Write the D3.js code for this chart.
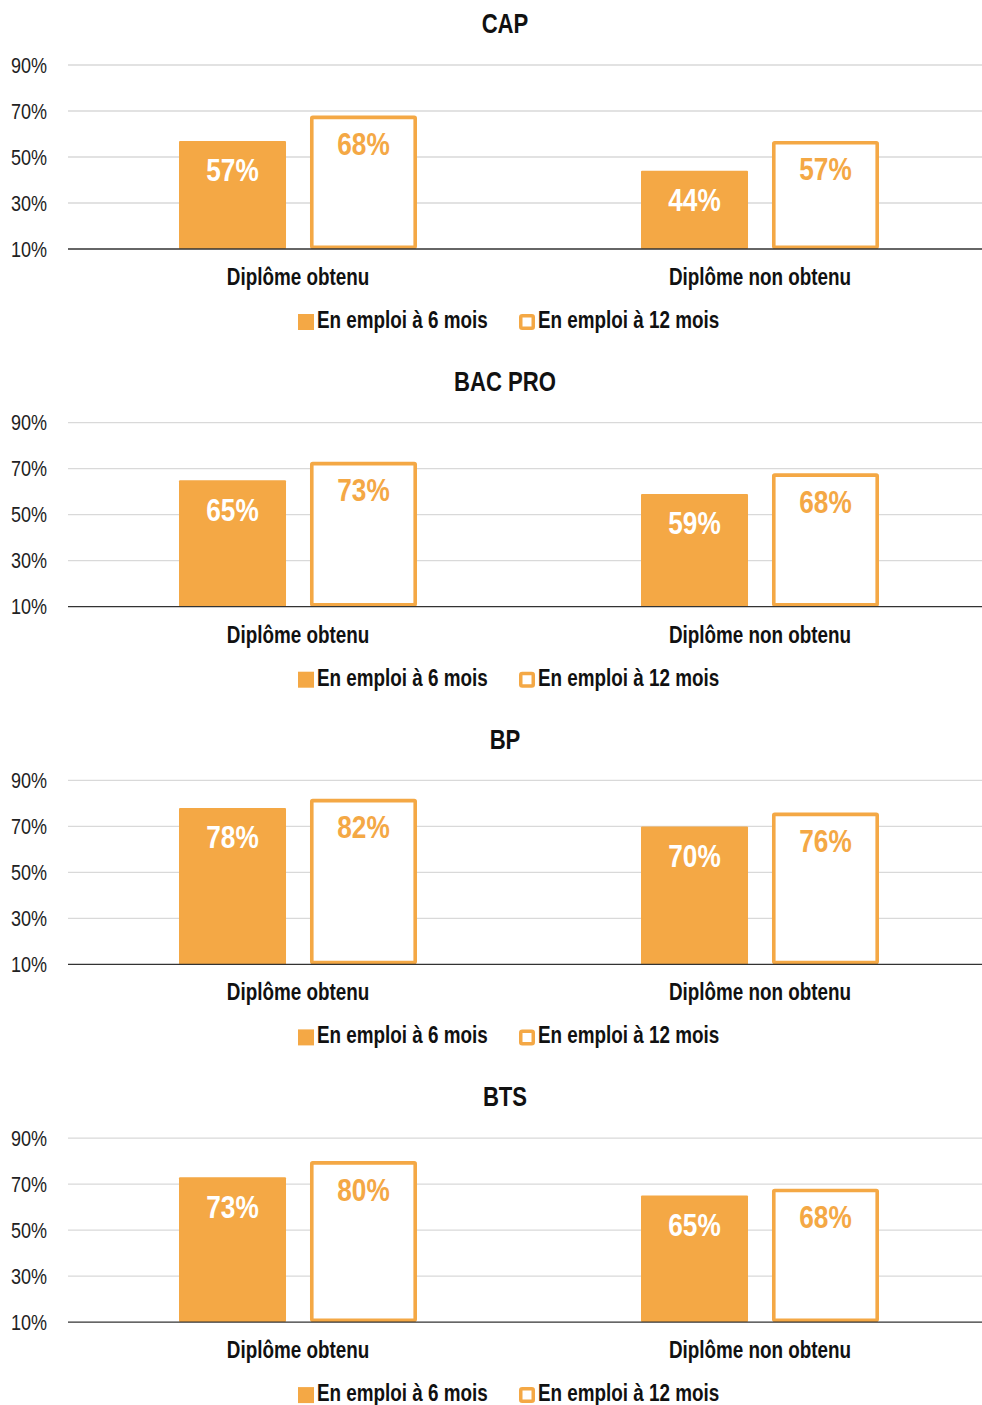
<!DOCTYPE html>
<html>
<head>
<meta charset="utf-8">
<script src="https://cdn.jsdelivr.net/npm/d3@7"></script>
<style>
  body { margin: 0; background: #fff; }
  svg { display: block; font-family: "Liberation Sans", Arial, sans-serif; }
</style>
</head>
<body>
<svg id="chart" width="982" height="1405"></svg>
<script>
// values
var panels = ["CAP", "BAC PRO", "BP", "BTS"];
var categories = ["Diplôme obtenu", "Diplôme non obtenu"];
var series = ["En emploi à 6 mois", "En emploi à 12 mois"];
var emploi6 = [[57, 44], [65, 59], [78, 70], [73, 65]];
var emploi12 = [[68, 57], [73, 68], [82, 76], [80, 68]];
var yTicks = [10, 30, 50, 70, 90];

var orange = "#f4a845";
var narrowX = 0.82; // no narrow font installed, squeeze text horizontally
var svg = d3.select("#chart");

var x0 = d3.scaleBand().domain(categories).range([67, 991]);
var x1 = d3.scaleBand().domain(series).range([-119, 119]).paddingInner(0.183);
var y = d3.scaleLinear().domain([10, 90]).range([184, 0]);

function at(x, yy) {
    return "translate(" + x + "," + yy + ") scale(" + narrowX + ",1)";
}

panels.forEach(function(name, i) {
    var top = 65 + i * 357.7;
    var g = svg.append("g").attr("transform", "translate(0," + top + ")");

    // grid
    g.selectAll("line.grid")
        .data(yTicks.slice(1))
        .enter().append("line")
        .attr("class", "grid")
        .attr("x1", 68).attr("x2", 982)
        .attr("y1", y).attr("y2", y)
        .attr("stroke", "#d9d9d9").attr("stroke-width", 1.3);

    var axis = g.append("g")
        .attr("transform", "translate(68,0)")
        .call(d3.axisLeft(y).tickValues(yTicks).tickSize(0).tickPadding(21)
            .tickFormat(function(d) { return d + "%"; }));
    axis.select(".domain").remove();
    axis.selectAll("text")
        .attr("x", 0)
        .attr("transform", at(-21, 0))
        .attr("font-family", "Liberation Sans, Arial, sans-serif")
        .attr("font-size", 22).attr("fill", "#222");

    g.append("text")
        .attr("transform", at(505, -39))
        .attr("text-anchor", "middle").attr("dominant-baseline", "middle")
        .attr("font-size", 27).attr("font-weight", "bold").attr("fill", "#111")
        .text(name);

    var rows = categories.map(function(c, j) {
        return { cat: c, v6: emploi6[i][j], v12: emploi12[i][j] };
    });

    var grp = g.selectAll("g.cat")
        .data(rows)
        .enter().append("g")
        .attr("class", "cat")
        .attr("transform", function(d) { return "translate(" + (x0(d.cat) + x0.bandwidth() / 2) + ",0)"; });

    grp.append("rect")
        .attr("x", x1(series[0]))
        .attr("width", x1.bandwidth())
        .attr("y", function(d) { return y(d.v6); })
        .attr("height", function(d) { return y(10) - y(d.v6); })
        .attr("rx", 1)
        .attr("fill", orange);

    var sw = 3.6;
    grp.append("rect")
        .attr("x", x1(series[1]) + sw / 2)
        .attr("width", x1.bandwidth() - sw)
        .attr("y", function(d) { return y(d.v12) + sw / 2; })
        .attr("height", function(d) { return y(10) - y(d.v12) - sw; })
        .attr("rx", 1)
        .attr("fill", "#fff").attr("stroke", orange).attr("stroke-width", sw);

    grp.append("text")
        .attr("transform", function(d) { return at(x1(series[0]) + x1.bandwidth() / 2, y(d.v6) + 32); })
        .attr("text-anchor", "middle").attr("dominant-baseline", "middle")
        .attr("font-size", 32).attr("font-weight", "bold").attr("fill", "#fff")
        .text(function(d) { return d.v6 + "%"; });

    grp.append("text")
        .attr("transform", function(d) { return at(x1(series[1]) + x1.bandwidth() / 2, y(d.v12) + 31); })
        .attr("text-anchor", "middle").attr("dominant-baseline", "middle")
        .attr("font-size", 32).attr("font-weight", "bold").attr("fill", orange)
        .text(function(d) { return d.v12 + "%"; });

    grp.append("text")
        .attr("transform", at(0, 214))
        .attr("text-anchor", "middle").attr("dominant-baseline", "middle")
        .attr("font-size", 23).attr("font-weight", "bold").attr("fill", "#111")
        .text(function(d) { return d.cat; });

    // baseline
    g.append("line")
        .attr("x1", 68).attr("x2", 982)
        .attr("y1", y(10)).attr("y2", y(10))
        .attr("stroke", "#333").attr("stroke-width", 1.3);

    // legend
    var leg = g.append("g").attr("transform", "translate(0," + 257 + ")");
    var lx = [298, 519];
    series.forEach(function(s, k) {
        if (k === 0) {
            leg.append("rect").attr("x", lx[k]).attr("y", -8).attr("width", 16).attr("height", 16)
                .attr("fill", orange);
        } else {
            leg.append("rect").attr("x", lx[k] + 1.75).attr("y", -6.25).attr("width", 12.5).attr("height", 12.5)
                .attr("rx", 1.5).attr("fill", "#fff").attr("stroke", orange).attr("stroke-width", 3.5);
        }
        leg.append("text")
            .attr("transform", at(lx[k] + 19, 0))
            .attr("dominant-baseline", "middle")
            .attr("font-size", 23).attr("font-weight", "bold").attr("fill", "#111")
            .text(s);
    });
});
</script>
</body>
</html>
